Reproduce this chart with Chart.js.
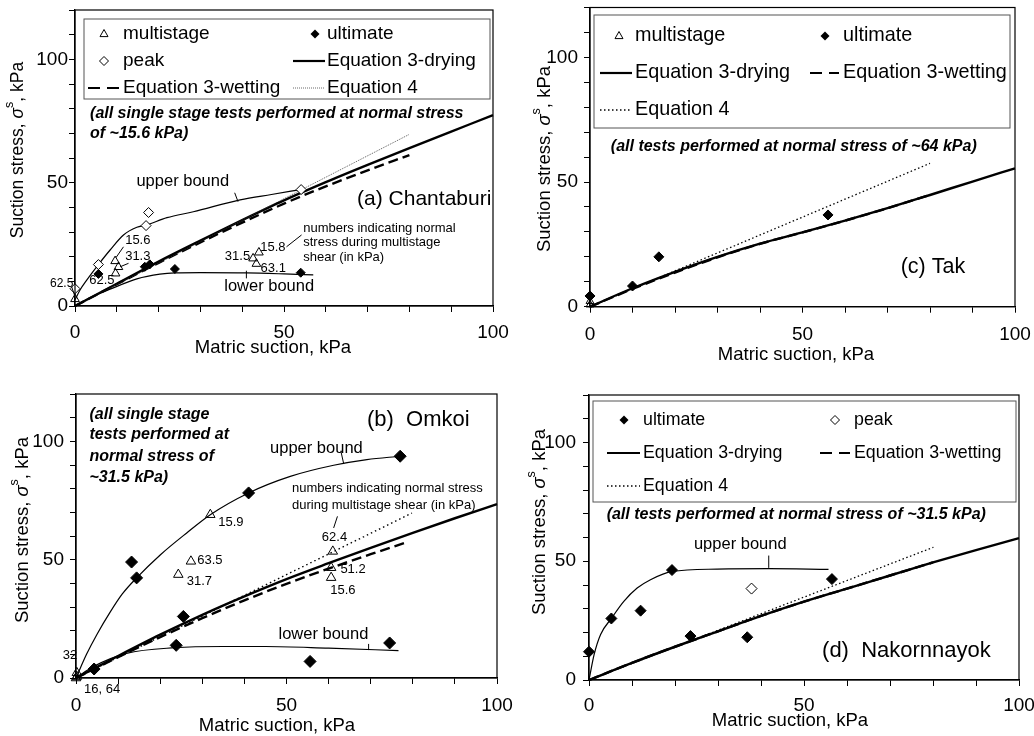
<!DOCTYPE html>
<html>
<head>
<meta charset="utf-8">
<script src="https://cdn.jsdelivr.net/npm/chart.js@4.4.1/dist/chart.umd.min.js"></script>
<style>
  body { margin: 0; background: #fff; }
  #wrap { position: relative; width: 1034px; height: 736px; overflow: hidden; background: #fff; }
  canvas { position: absolute; }
</style>
</head>
<body>
<div id="wrap">
  <canvas id="pa" width="517" height="368" style="left:0;top:0"></canvas>
  <canvas id="pc" width="517" height="368" style="left:517px;top:0"></canvas>
  <canvas id="pb" width="517" height="368" style="left:0;top:368px"></canvas>
  <canvas id="pd" width="517" height="368" style="left:517px;top:368px"></canvas>
</div>
<script>
// tick labels (minor ticks every 10 kPa)
const xTickLabels = [0, 50, 100];
const yTickLabels = [0, 50, 100];

// (a) Chantaburi  [matric suction, suction stress]
const aMultistage = [[0, 2.8], [9.6, 18.2], [10.4, 15.8], [9.7, 13.2], [42.6, 19.3], [44, 21.7], [43.4, 17.1]];
const aPeak = [[0, 7], [5.6, 16.8], [17, 32.6], [17.6, 37.9], [54.1, 47.2]];
const aUltimate = [[5.6, 13], [16.7, 15.9], [17.9, 16.9], [23.9, 15], [54, 13.5]];
const aDrying = [[0, 0], [10, 9], [20, 18], [30, 26.5], [40, 34.8], [50, 42.8], [60, 50.2], [70, 57.2], [80, 64], [90, 70.7], [100, 77.4]];
const aWetting = [[0, 0], [10, 8.8], [20, 17.5], [30, 25.8], [40, 33.8], [50, 41.5], [60, 48.5], [70, 55], [80, 61.2]];
const aEq4 = [[0, 0], [80, 69.6]];
const aUpper = [[0, 2.5], [1.2, 6.5], [2.8, 10.5], [5.6, 16.8], [8.4, 22.7], [11.6, 28.8], [14.8, 31.9], [17, 32.8], [22, 35.8], [28.3, 38.2], [39.5, 43], [47, 45.2], [54, 47.2]];
const aLower = [[0, 0], [4, 3.6], [8.4, 6.8], [14.8, 11], [20.3, 12.9], [24, 13.4], [30, 13.5], [41, 13.4], [50, 13], [57, 12.6]];

// (c) Tak
const cMultistage = [[0, 2.2], [0, 0.8]];
const cUltimate = [[0, 4.3], [10, 8.3], [16.2, 20], [56, 36.8]];
const cDrying = [[0, 0], [10, 7.4], [20, 14], [30, 20], [40, 25.3], [50, 29.8], [60, 34.5], [70, 39.5], [80, 44.8], [90, 50.2], [100, 55.5]];
const cWetting = [[0, 0], [10, 7.1], [20, 13.7], [30, 19.8], [40, 25.2], [50, 29.8], [60, 34.5], [70, 39.5], [80, 44.8]];
const cEq4 = [[0, 0], [80, 57.5]];

// (b) Omkoi
const bMultistage = [[0.2, 2.2], [0.2, 0.6], [0, 0], [31.9, 69], [27.3, 49.3], [24.3, 43.7], [61, 53.5], [60.6, 46.6], [60.6, 42.4]];
const bUltimate = [[4.3, 3.8], [13.2, 49], [14.4, 42.3], [23.8, 13.8], [25.5, 26], [41, 78.2], [55.6, 7], [74.5, 14.8], [77, 93.7]];
const bDrying = [[0, 0], [10, 9.3], [20, 18.3], [30, 26.7], [40, 34.5], [50, 41.8], [60, 48.5], [70, 55], [80, 61.3], [90, 67.5], [100, 73.5]];
const bWetting = [[0, 0], [10, 8.8], [20, 17.3], [30, 25.3], [40, 32.8], [50, 39.8], [60, 46.2], [70, 52.3], [79, 57.6]];
const bEq4 = [[0, 0], [79.8, 69.7]];
const bUpper = [[0, 0], [2.5, 10], [5, 18.5], [8, 27.5], [11, 35.5], [14.4, 42.3], [20, 52], [26.3, 61.3], [31.9, 69], [41, 78.2], [50.9, 85.2], [61.2, 89.9], [69.1, 92.3], [77, 93.7]];
const bLower = [[0, 0], [4.1, 4.8], [12, 10.4], [23.5, 12.8], [35, 13.3], [45, 13.3], [60, 12.6], [76.6, 11.6]];

// (d) Nakornnayok
const dUltimate = [[0, 11.9], [5.2, 25.9], [12, 29.2], [19.3, 46.3], [23.6, 18.5], [36.8, 18], [56.5, 42.5]];
const dPeak = [[37.8, 38.5]];
const dDrying = [[0, 0], [10, 7.2], [20, 14], [30, 20.5], [40, 27], [50, 33], [60, 38.5], [70, 44], [80, 49.5], [90, 54.7], [100, 59.7]];
const dWetting = [[0, 0], [10, 7.2], [20, 14], [30, 20.5], [40, 27], [50, 33], [60, 38.5], [70, 44], [80, 49.5]];
const dEq4 = [[0, 0], [80.1, 55.9]];
const dUpper = [[0, 0], [1.2, 10.8], [2.7, 19.2], [5.2, 25.9], [8.1, 33.1], [11.2, 38.7], [14.3, 42.2], [19.3, 45.7], [29.8, 46.7], [41.8, 46.9], [55.7, 46.6]];

const FAM = '"Liberation Sans", Arial, Helvetica, sans-serif';
Chart.defaults.font.family = FAM;
Chart.defaults.color = '#000';

function pts(a) { return a.map(p => ({ x: p[0], y: p[1] })); }

function drawSym(ctx, kind, x, y, l1, l2) {
  ctx.save();
  ctx.strokeStyle = '#000';
  ctx.fillStyle = '#000';
  ctx.lineWidth = 1;
  ctx.beginPath();
  if (kind === 'tri') {
    ctx.moveTo(x, y - 4.5); ctx.lineTo(x + 4, y + 2.6); ctx.lineTo(x - 4, y + 2.6); ctx.closePath(); ctx.stroke();
  } else if (kind === 'fd' || kind === 'od') {
    ctx.moveTo(x, y - 4.5); ctx.lineTo(x + 4.5, y); ctx.lineTo(x, y + 4.5); ctx.lineTo(x - 4.5, y); ctx.closePath();
    if (kind === 'fd') ctx.fill(); else ctx.stroke();
  } else {
    if (kind === 'solid') { ctx.lineWidth = 2.2; }
    if (kind === 'dash') { ctx.lineWidth = 2.2; ctx.setLineDash([12, 7]); }
    if (kind === 'dot') { ctx.lineWidth = 1.3; ctx.setLineDash([1.5, 2.5]); }
    if (kind === 'fine') { ctx.lineWidth = 0.8; ctx.setLineDash([1, 1]); ctx.strokeStyle = '#444'; }
    ctx.moveTo(l1, y); ctx.lineTo(l2, y); ctx.stroke();
  }
  ctx.restore();
}

const decor = {
  id: 'decor',
  afterDraw(chart, args, o) {
    const ctx = chart.ctx, a = chart.chartArea;
    const sx = chart.scales.x, sy = chart.scales.y;
    const px = v => sx.getPixelForValue(v), py = v => sy.getPixelForValue(v);
    ctx.save();
    ctx.strokeStyle = '#000';
    ctx.lineWidth = 1.2;
    ctx.strokeRect(a.left, a.top, a.right - a.left, a.bottom - a.top);

    if (o.legend) {
      const L = o.legend, b = L.box;
      ctx.fillStyle = '#fff';
      ctx.fillRect(b[0], b[1], b[2] - b[0], b[3] - b[1]);
      ctx.strokeStyle = '#555';
      ctx.lineWidth = 1;
      ctx.strokeRect(b[0], b[1], b[2] - b[0], b[3] - b[1]);
      L.items.forEach(it => {
        const c = L.cols[it.col], y = L.rows[it.row];
        drawSym(ctx, it.k, c.m, y, c.l1, c.l2);
        ctx.fillStyle = '#000';
        ctx.font = L.font + ' ' + FAM;
        ctx.textAlign = 'left';
        ctx.textBaseline = 'middle';
        ctx.fillText(it.t, c.t, y);
      });
    }

    ctx.strokeStyle = '#000';
    ctx.lineWidth = 1;
    ctx.setLineDash([]);
    (o.leaders || []).forEach(s => {
      ctx.beginPath();
      ctx.moveTo(px(s[0]), py(s[1]));
      ctx.lineTo(px(s[2]), py(s[3]));
      ctx.stroke();
    });

    ctx.fillStyle = '#000';
    ctx.textBaseline = 'middle';
    (o.texts || []).forEach(t => {
      ctx.font = (t.f || '13px') + ' ' + FAM;
      ctx.textAlign = t.align || 'left';
      ctx.fillText(t.s, px(t.x), py(t.y));
    });

    // axis titles
    const fz = o.yFont || 18.5;
    const f = fz + 'px ' + FAM, fi = 'italic ' + fz + 'px ' + FAM, fs = '12.5px ' + FAM;
    ctx.textAlign = 'center';
    ctx.font = '18.5px ' + FAM;
    ctx.fillText('Matric suction, kPa', o.xTitle[0], o.xTitle[1]);
    const parts = [['Suction stress, ', f, 0], ['\u03C3', fi, 0], ['s', fs, -8], [', kPa', f, 0]];
    let tot = 0;
    parts.forEach(p => { ctx.font = p[1]; p.push(ctx.measureText(p[0]).width); tot += p[3]; });
    ctx.translate(o.yTitle[0], o.yTitle[1]);
    ctx.rotate(-Math.PI / 2);
    ctx.textAlign = 'left';
    let cx = -tot / 2;
    parts.forEach(p => { ctx.font = p[1]; ctx.fillText(p[0], cx, p[2]); cx += p[3]; });
    ctx.restore();
  }
};

function panel(id, p) {
  const W = 517, H = 368, ar = p.area;
  const ds = [];
  p.markers.forEach(m => ds.push({
    data: pts(m.data), showLine: false, pointStyle: m.style, pointRadius: m.r,
    pointBackgroundColor: m.fill, pointBorderColor: '#000', pointBorderWidth: 1, clip: false
  }));
  p.curves.forEach(c => ds.push({
    data: pts(c.data), pointRadius: 0, borderColor: c.color || '#000', borderWidth: c.w,
    borderDash: c.dash || [], cubicInterpolationMode: 'monotone', fill: false, clip: false
  }));
  const zeroPad = s => { s.paddingLeft = 0; s.paddingRight = 0; s.paddingTop = 0; s.paddingBottom = 0; };
  new Chart(document.getElementById(id), {
    type: 'line',
    data: { datasets: ds },
    plugins: [decor],
    options: {
      responsive: false, animation: false, devicePixelRatio: 1,
      layout: { padding: { left: 0, top: ar.top, right: W - ar.right, bottom: 0 } },
      plugins: { legend: { display: false }, tooltip: { enabled: false }, decor: p.decor },
      scales: {
        x: {
          type: 'linear', min: 0, max: 100,
          ticks: { stepSize: 10, autoSkip: false, maxRotation: 0, padding: p.xPad, font: { size: 19 }, color: '#000',
            callback: v => xTickLabels.includes(v) ? String(v) : '' },
          grid: { drawOnChartArea: false, tickLength: 6, tickColor: '#000' },
          border: { color: '#000', width: 1.3 },
          afterFit: s => { s.height = H - ar.bottom; zeroPad(s); }
        },
        y: {
          type: 'linear', min: 0, max: 120,
          ticks: { stepSize: 10, autoSkip: false, padding: p.yPad, font: { size: 19 }, color: '#000',
            callback: v => yTickLabels.includes(v) ? String(v) : '' },
          grid: { drawOnChartArea: false, tickLength: 6, tickColor: '#000' },
          border: { color: '#000', width: 1.3 },
          afterFit: s => { s.width = ar.left; zeroPad(s); }
        }
      }
    }
  });
}

const NOTE = 'bold italic 16px';

panel('pa', {
  area: { left: 75, right: 493, top: 10, bottom: 306 }, xPad: 9, yPad: 1,
  markers: [
    { data: aUltimate, style: 'rectRot', r: 4.5, fill: '#000' },
    { data: aMultistage, style: 'triangle', r: 5, fill: 'rgba(0,0,0,0)' },
    { data: aPeak, style: 'rectRot', r: 5, fill: '#fff' }
  ],
  curves: [
    { data: aUpper, w: 1.2 },
    { data: aLower, w: 1.2 },
    { data: aEq4, w: 0.8, dash: [1, 1], color: '#333' },
    { data: aWetting, w: 2.4, dash: [10, 5] },
    { data: aDrying, w: 2.4 }
  ],
  decor: {
    xTitle: [273, 348], yTitle: [18, 150], yFont: 17.5,
    legend: {
      box: [84, 19, 490, 99], rows: [34, 61, 88], font: '19px',
      cols: [{ m: 104, t: 123, l1: 88, l2: 121 }, { m: 315, t: 327, l1: 293, l2: 325 }],
      items: [
        { k: 'tri', t: 'multistage', col: 0, row: 0 }, { k: 'fd', t: 'ultimate', col: 1, row: 0 },
        { k: 'od', t: 'peak', col: 0, row: 1 }, { k: 'solid', t: 'Equation 3-drying', col: 1, row: 1 },
        { k: 'dash', t: 'Equation 3-wetting', col: 0, row: 2 }, { k: 'fine', t: 'Equation 4', col: 1, row: 2 }
      ]
    },
    texts: [
      { s: '(all single stage tests performed at normal stress', x: 3.6, y: 78.2, f: NOTE },
      { s: 'of ~15.6 kPa)', x: 3.6, y: 69.7, f: NOTE },
      { s: '(a) Chantaburi', x: 99.6, y: 43.2, f: '21px', align: 'right' },
      { s: 'upper bound', x: 14.7, y: 50.4, f: '16.5px' },
      { s: 'lower bound', x: 35.7, y: 8.1, f: '16.5px' },
      { s: 'numbers indicating normal', x: 54.6, y: 31.5, f: '13px' },
      { s: 'stress during multistage', x: 54.6, y: 25.7, f: '13px' },
      { s: 'shear (in kPa)', x: 54.6, y: 19.5, f: '13px' },
      { s: '62.5', x: -0.4, y: 9.2, f: '12px', align: 'right' },
      { s: '62.5', x: 3.4, y: 10.3, f: '13px' },
      { s: '15.6', x: 12, y: 26.7, f: '13px' },
      { s: '31.3', x: 12, y: 20.2, f: '13px' },
      { s: '31.5', x: 41.9, y: 20, f: '13px', align: 'right' },
      { s: '15.8', x: 44.3, y: 23.6, f: '13px' },
      { s: '63.1', x: 44.4, y: 15.3, f: '13px' }
    ],
    leaders: [[38.2, 45.9, 39, 42.3], [41, 14.3, 41, 11.2], [50.6, 24, 54.2, 28.8],
              [11.6, 24, 9.8, 19.6], [12.8, 17.3, 10.8, 15.9], [-0.8, 7.8, 0, 3.8]]
  }
});

panel('pc', {
  area: { left: 73, right: 498, top: 7.5, bottom: 306.7 }, xPad: 11, yPad: 6,
  markers: [
    { data: cUltimate, style: 'rectRot', r: 5, fill: '#000' },
    { data: cMultistage, style: 'triangle', r: 4.5, fill: 'rgba(0,0,0,0)' }
  ],
  curves: [
    { data: cEq4, w: 1.3, dash: [1.5, 2.5] },
    { data: cWetting, w: 2.4, dash: [10, 5] },
    { data: cDrying, w: 2.4 }
  ],
  decor: {
    xTitle: [279, 355], yTitle: [28, 159],
    legend: {
      box: [77, 15, 493, 128], rows: [36, 73, 110], font: '19.8px',
      cols: [{ m: 102, t: 118, l1: 83, l2: 115 }, { m: 308, t: 326, l1: 293, l2: 322 }],
      items: [
        { k: 'tri', t: 'multistage', col: 0, row: 0 }, { k: 'fd', t: 'ultimate', col: 1, row: 0 },
        { k: 'solid', t: 'Equation 3-drying', col: 0, row: 1 }, { k: 'dash', t: 'Equation 3-wetting', col: 1, row: 1 },
        { k: 'dot', t: 'Equation 4', col: 0, row: 2 }
      ]
    },
    texts: [
      { s: '(all tests performed at normal stress of ~64 kPa)', x: 4.9, y: 64.2, f: NOTE },
      { s: '(c) Tak', x: 73.1, y: 16, f: '21.5px' }
    ],
    leaders: []
  }
});

panel('pb', {
  area: { left: 76, right: 497, top: 26, bottom: 310 }, xPad: 10, yPad: 6,
  markers: [
    { data: bUltimate, style: 'rectRot', r: 6, fill: '#000' },
    { data: bMultistage, style: 'triangle', r: 5.5, fill: 'rgba(0,0,0,0)' }
  ],
  curves: [
    { data: bUpper, w: 1.2 },
    { data: bLower, w: 1.2 },
    { data: bEq4, w: 1.4, dash: [1.5, 3] },
    { data: bWetting, w: 2.4, dash: [10, 5] },
    { data: bDrying, w: 2.4 }
  ],
  decor: {
    xTitle: [277, 358], yTitle: [23, 162],
    texts: [
      { s: '(all single stage', x: 3.2, y: 111.5, f: NOTE },
      { s: 'tests performed at', x: 3.2, y: 102.8, f: NOTE },
      { s: 'normal stress of', x: 3.2, y: 93.7, f: NOTE },
      { s: '~31.5 kPa)', x: 3.2, y: 84.8, f: NOTE },
      { s: '(b)  Omkoi', x: 69.1, y: 109.2, f: '22px' },
      { s: 'upper bound', x: 46.1, y: 97.2, f: '16.5px' },
      { s: 'lower bound', x: 48.1, y: 18.3, f: '16.5px' },
      { s: 'numbers indicating normal stress', x: 51.3, y: 80.3, f: '13px' },
      { s: 'during multistage shear (in kPa)', x: 51.3, y: 73, f: '13px' },
      { s: '15.9', x: 33.8, y: 65.9, f: '13px' },
      { s: '63.5', x: 28.8, y: 49.6, f: '13px' },
      { s: '31.7', x: 26.3, y: 40.8, f: '13px' },
      { s: '62.4', x: 58.4, y: 59.2, f: '13px' },
      { s: '51.2', x: 62.8, y: 45.8, f: '13px' },
      { s: '15.6', x: 60.4, y: 36.9, f: '13px' },
      { s: '32', x: 0.3, y: 9.6, f: '13px', align: 'right' },
      { s: '16, 64', x: 1.9, y: -4.9, f: '13px' }
    ],
    leaders: [[62.9, 96, 63.6, 90.4], [69.5, 14.4, 69.5, 11.8], [61.2, 63.4, 62.1, 68.3]]
  }
});

panel('pd', {
  area: { left: 72, right: 502, top: 27, bottom: 312 }, xPad: 8, yPad: 7,
  markers: [
    { data: dUltimate, style: 'rectRot', r: 5.5, fill: '#000' },
    { data: dPeak, style: 'rectRot', r: 5.5, fill: '#fff' }
  ],
  curves: [
    { data: dUpper, w: 1.2 },
    { data: dEq4, w: 1.3, dash: [1.5, 2.5] },
    { data: dWetting, w: 2.4, dash: [10, 5] },
    { data: dDrying, w: 2.4 }
  ],
  decor: {
    xTitle: [273, 353], yTitle: [23, 154],
    legend: {
      box: [76, 33, 499, 134], rows: [52, 85, 118], font: '17.8px',
      cols: [{ m: 107, t: 126, l1: 90, l2: 123 }, { m: 318, t: 337, l1: 303, l2: 333 }],
      items: [
        { k: 'fd', t: 'ultimate', col: 0, row: 0 }, { k: 'od', t: 'peak', col: 1, row: 0 },
        { k: 'solid', t: 'Equation 3-drying', col: 0, row: 1 }, { k: 'dash', t: 'Equation 3-wetting', col: 1, row: 1 },
        { k: 'dot', t: 'Equation 4', col: 0, row: 2 }
      ]
    },
    texts: [
      { s: '(all tests performed at normal stress of ~31.5 kPa)', x: 4.1, y: 69.5, f: NOTE },
      { s: '(d)  Nakornnayok', x: 54.2, y: 12.2, f: '22px' },
      { s: 'upper bound', x: 24.4, y: 57.2, f: '16.5px' }
    ],
    leaders: [[41.8, 52.4, 41.8, 47.2]]
  }
});
</script>
</body>
</html>
